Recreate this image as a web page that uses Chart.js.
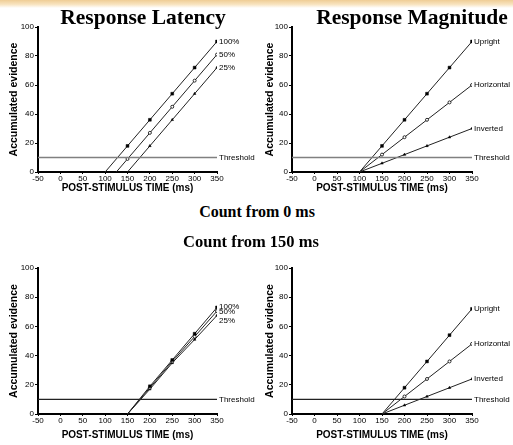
<!DOCTYPE html>
<html>
<head>
<meta charset="utf-8">
<script src="https://cdn.jsdelivr.net/npm/chart.js@4.4.1/dist/chart.umd.min.js"></script>
<style>
body{margin:0;background:#fff;width:513px;height:445px;overflow:hidden;position:relative;font-family:"Liberation Serif","Times New Roman",serif}
#band{position:absolute;left:0;top:0;width:513px;height:8px;background:linear-gradient(#efcd95,#f8e4c0 55%,#fff)}
.ttl{position:absolute;font-weight:bold;color:#000;white-space:nowrap;transform:translateX(-50%);line-height:1.15}
canvas{position:absolute}
</style>
</head>
<body>
<div id="band"></div>
<canvas id="tl" width="256" height="194" style="left:0;top:0"></canvas>
<canvas id="tr" width="257" height="194" style="left:256px;top:0"></canvas>
<canvas id="bl" width="256" height="200" style="left:0;top:241px"></canvas>
<canvas id="br" width="257" height="200" style="left:256px;top:241px"></canvas>
<div class="ttl" style="left:143px;top:5px;font-size:21.5px">Response Latency</div>
<div class="ttl" style="left:412px;top:5px;font-size:21.5px">Response Magnitude</div>
<div class="ttl" style="left:257px;top:203px;font-size:16px">Count from 0 ms</div>
<div class="ttl" style="left:251px;top:233px;font-size:16.5px">Count from 150 ms</div>
<script>
// axis ticks
var X_TICKS = [-50, 0, 50, 100, 150, 200, 250, 300, 350];
var Y_TICKS = [0, 20, 40, 60, 80, 100];
var THRESHOLD = 10;

var LAT_NAMES = ["100%", "50%", "25%"];
var MAG_NAMES = ["Upright", "Horizontal", "Inverted"];

// count from 0 ms - latency
var LAT0_100_T = [100, 150, 200, 250, 300, 350];
var LAT0_100_Y = [0, 18, 36, 54, 72, 90];
var LAT0_50_T = [125, 150, 200, 250, 300, 350];
var LAT0_50_Y = [0, 9, 27, 45, 63, 81];
var LAT0_25_T = [150, 200, 250, 300, 350];
var LAT0_25_Y = [0, 18, 36, 54, 72];

// count from 0 ms - magnitude
var MAG0_T = [100, 150, 200, 250, 300, 350];
var MAG0_UP_Y = [0, 18, 36, 54, 72, 90];
var MAG0_HOR_Y = [0, 12, 24, 36, 48, 60];
var MAG0_INV_Y = [0, 6, 12, 18, 24, 30];

// count from 150 ms
var C150_T = [150, 200, 250, 300, 350];
var LAT150_100_Y = [0, 19, 37, 55, 73];
var LAT150_50_Y = [0, 18, 36, 53, 70.5];
var LAT150_25_Y = [0, 17, 35, 51, 67.5];
var MAG150_UP_Y = [0, 18, 36, 54, 72];
var MAG150_HOR_Y = [0, 12, 24, 36, 48];
var MAG150_INV_Y = [0, 6, 12, 18, 24];

var FONT = '"Liberation Sans", Arial, sans-serif';

function pts(t, y) {
    return t.map(function(v, i){ return {x: v, y: y[i]}; });
}

// one series, first point (the origin) has no marker
function series(t, y, name, marker, dy) {
    var open = marker == "circle";
    return {
        data: pts(t, y),
        endLabel: name,
        labelDy: dy || 0,
        borderColor: "#222",
        borderWidth: 1,
        pointStyle: marker,
        pointRadius: y.map(function(v, i){ return i == 0 ? 0 : (marker == "rect" ? 2 : 1.5); }),
        pointBackgroundColor: open ? "#fff" : "#000",
        pointBorderColor: "#000",
        pointBorderWidth: open ? 0.8 : 0.5,
        tension: 0
    };
}

function threshold(color) {
    return {
        data: pts([-50, 350], [THRESHOLD, THRESHOLD]),
        endLabel: "Threshold",
        labelDy: 0,
        borderColor: color,
        borderWidth: 1.3,
        pointRadius: 0
    };
}

// text at the end of each line
var endLabels = {
    id: "endLabels",
    afterDatasetsDraw: function(chart) {
        var ctx = chart.ctx, xs = chart.scales.x, ys = chart.scales.y;
        ctx.save();
        ctx.font = "8px " + FONT;
        ctx.fillStyle = "#000";
        ctx.textBaseline = "middle";
        chart.data.datasets.forEach(function(ds){
            if (!ds.endLabel) return;
            var p = ds.data[ds.data.length - 1];
            ctx.fillText(ds.endLabel, xs.getPixelForValue(p.x) + 2, ys.getPixelForValue(p.y) + ds.labelDy);
        });
        ctx.restore();
    }
};

function panel(id, datasets, yWidth, xHeight) {
    return new Chart(document.getElementById(id), {
        type: "line",
        data: {datasets: datasets},
        options: {
            responsive: false,
            animation: false,
            devicePixelRatio: 1,
            layout: {padding: {top: 27, right: 256 - 217 - (yWidth - 38), left: 0, bottom: 0}},
            plugins: {legend: {display: false}, tooltip: {enabled: false}},
            scales: {
                x: {
                    type: "linear", min: -50, max: 350,
                    afterBuildTicks: function(s){ s.ticks = X_TICKS.map(function(v){ return {value: v}; }); },
                    afterFit: function(s){ s.height = xHeight; },
                    grid: {drawOnChartArea: false, tickLength: 2, color: "#000", lineWidth: 1},
                    border: {color: "#000", width: 2},
                    ticks: {font: {family: FONT, size: 8}, color: "#000", padding: 0, maxRotation: 0, autoSkip: false},
                    title: {display: true, text: "POST-STIMULUS TIME (ms)", color: "#000",
                        font: {family: FONT, size: 10, weight: "bold"}, padding: {top: 0, bottom: 0}}
                },
                y: {
                    min: 0, max: 100,
                    afterBuildTicks: function(s){ s.ticks = Y_TICKS.map(function(v){ return {value: v}; }); },
                    afterFit: function(s){ s.width = yWidth; },
                    grid: {drawOnChartArea: false, tickLength: 3, color: "#000", lineWidth: 1},
                    border: {color: "#000", width: 2},
                    ticks: {font: {family: FONT, size: 8}, color: "#000", padding: 1},
                    title: {display: true, text: "Accumulated evidence", color: "#000",
                        font: {family: FONT, size: 10.5, weight: "bold"}, padding: {top: 8, bottom: 0}}
                }
            }
        },
        plugins: [endLabels]
    });
}

panel("tl", [
    threshold("#808080"),
    series(LAT0_100_T, LAT0_100_Y, LAT_NAMES[0], "rect"),
    series(LAT0_50_T, LAT0_50_Y, LAT_NAMES[1], "circle"),
    series(LAT0_25_T, LAT0_25_Y, LAT_NAMES[2], "triangle")
], 38, 22);

panel("tr", [
    threshold("#808080"),
    series(MAG0_T, MAG0_UP_Y, MAG_NAMES[0], "rect"),
    series(MAG0_T, MAG0_HOR_Y, MAG_NAMES[1], "circle"),
    series(MAG0_T, MAG0_INV_Y, MAG_NAMES[2], "triangle")
], 36, 22);

panel("bl", [
    threshold("#222"),
    series(C150_T, LAT150_100_Y, LAT_NAMES[0], "rect", -1),
    series(C150_T, LAT150_50_Y, LAT_NAMES[1], "circle", 1),
    series(C150_T, LAT150_25_Y, LAT_NAMES[2], "triangle", 5)
], 38, 27);

panel("br", [
    threshold("#222"),
    series(C150_T, MAG150_UP_Y, MAG_NAMES[0], "rect"),
    series(C150_T, MAG150_HOR_Y, MAG_NAMES[1], "circle"),
    series(C150_T, MAG150_INV_Y, MAG_NAMES[2], "triangle")
], 36, 27);
</script>
</body>
</html>
